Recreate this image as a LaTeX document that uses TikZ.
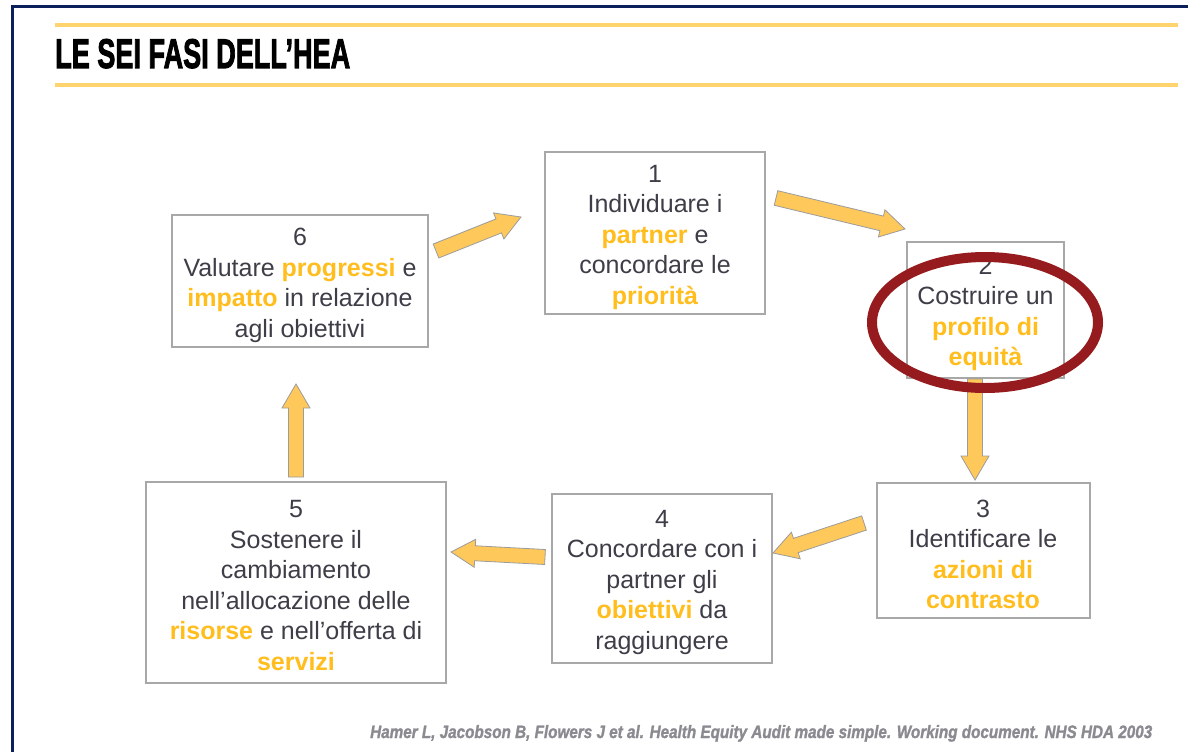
\documentclass[tikz,border=0pt]{standalone}
\usepackage{fontspec}
\usepackage{graphicx}
\setmainfont{Liberation Sans}
\newfontfamily\titlefont[FakeBold=2.5]{Liberation Sans Bold}
\newfontfamily\footfont[FakeBold=1.5]{Liberation Sans Bold Italic}
\usetikzlibrary{calc}
\definecolor{navy}{HTML}{0A1F5C}
\definecolor{rule}{HTML}{FFD36E}
\definecolor{boxline}{HTML}{A8A8A8}
\definecolor{txt}{HTML}{3E3E48}
\definecolor{hey}{HTML}{FFBE1E}
\definecolor{arrfill}{HTML}{FFC85A}
\definecolor{arrline}{HTML}{9C9C9C}
\definecolor{ringred}{HTML}{951B1E}
\definecolor{footgray}{HTML}{8A8A90}
\newcommand\hlw[1]{{\bfseries\color{hey}#1}}
\newcommand\blockarrow[2]{%
  \coordinate (ba-s) at ($(#2)!24pt!(#1)$);
  \draw[arrowstyle] ($(#1)!7.5pt!90:(#2)$) -- ($(ba-s)!7.5pt!-90:(#1)$) -- ($(ba-s)!14pt!-90:(#1)$) -- (#2) -- ($(ba-s)!14pt!90:(#1)$) -- ($(ba-s)!7.5pt!90:(#1)$) -- ($(#1)!7.5pt!-90:(#2)$) -- cycle;}
\tikzset{
  stepbox/.style={draw=boxline, line width=2pt, fill=white, inner sep=0pt},
  steptext/.style={align=center, text=txt, inner sep=0pt, font=\fontsize{25}{30.5}\selectfont},
  arrowstyle/.style={draw=arrline, fill=arrfill, line width=0.8pt, line join=miter},
}
\begin{document}
\begin{tikzpicture}[x=1pt,y=-1pt]
\useasboundingbox (0,0) rectangle (1188,752);
\fill[white] (0,0) rectangle (1188,752);
% frame
\draw[navy, line width=3pt] (12,752) -- (12,7) -- (1190,7);
% title rules
\draw[rule, line width=3.5pt] (55,25) -- (1178,25);
\draw[rule, line width=3.5pt] (55,85) -- (1178,85);
\node[anchor=base west, inner sep=0pt] (title) at (55,68)
  {\resizebox{295pt}{29pt}{\titlefont LE SEI FASI DELL’HEA}};
% boxes
\node[stepbox, minimum width=220pt, minimum height=162pt] (b1) at (655,233) {};
\node[steptext] (b1t) at ($(b1)+(0,4)$)
  {1\\Individuare i\\\hlw{partner} e\\concordare le\\\hlw{priorità}};
\node[stepbox, minimum width=157pt, minimum height=136pt] (b2) at (985.5,310) {};
\node[steptext] (b2t) at ($(b2)+(0,4)$)
  {2\\Costruire un\\\hlw{profilo di}\\\hlw{equità}};
\node[stepbox, minimum width=213pt, minimum height=135pt] (b3) at (983,550.5) {};
\node[steptext] (b3t) at ($(b3)+(0,4)$)
  {3\\Identificare le\\\hlw{azioni di}\\\hlw{contrasto}};
\node[stepbox, minimum width=220pt, minimum height=169pt] (b4) at (662,578.5) {};
\node[steptext] (b4t) at ($(b4)+(0,3.5)$)
  {4\\Concordare con i\\partner gli\\\hlw{obiettivi} da\\raggiungere};
\node[stepbox, minimum width=300pt, minimum height=201pt] (b5) at (296,582.5) {};
\node[steptext] (b5t) at ($(b5)+(0,3)$)
  {5\\Sostenere il\\cambiamento\\nell’allocazione delle\\\hlw{risorse} e nell’offerta di\\\hlw{servizi}};
\node[stepbox, minimum width=256pt, minimum height=132pt] (b6) at (300,281) {};
\node[steptext] (b6t) at ($(b6)+(0,4.5)$)
  {6\\Valutare \hlw{progressi} e\\\hlw{impatto} in relazione\\agli obiettivi};
% arrow end points
\coordinate (t61) at (436,251); \coordinate (h61) at (521,217);
\coordinate (t12) at (776,198); \coordinate (h12) at (905,229);
\coordinate (t23) at (975,379); \coordinate (h23) at (975,480);
\coordinate (t34) at (864,523); \coordinate (h34) at (773,553);
\coordinate (t45) at (545,557); \coordinate (h45) at (451,552);
\coordinate (t56) at (296,477); \coordinate (h56) at (296,384);
\blockarrow{t61}{h61}
\blockarrow{t12}{h12}
\blockarrow{t23}{h23}
\blockarrow{t34}{h34}
\blockarrow{t45}{h45}
\blockarrow{t56}{h56}
% highlight ring
\draw[ringred, line width=10pt] (985,322.5) ellipse [x radius=113pt, y radius=65.5pt];
% footer
\node[anchor=base west, inner sep=0pt, text=footgray] (ref) at (370,738)
  {\resizebox{782pt}{13pt}{\footfont Hamer L, Jacobson B, Flowers J et al. Health Equity Audit made simple. Working document. NHS HDA 2003}};
\end{tikzpicture}
\end{document}
